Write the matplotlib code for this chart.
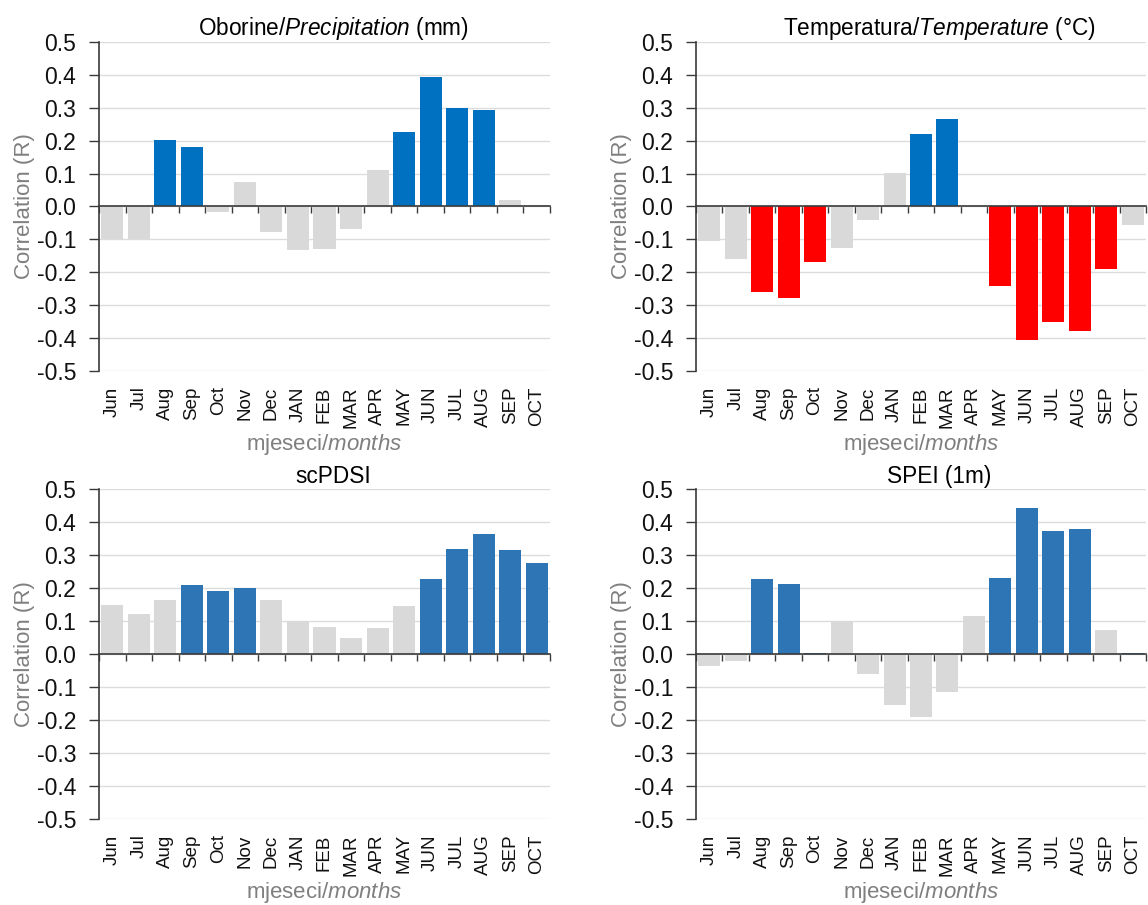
import matplotlib
matplotlib.use("Agg")
import matplotlib.pyplot as plt
import numpy as np

plt.rcParams['font.family'] = ['Liberation Sans', 'DejaVu Sans']
plt.rcParams['mathtext.fontset'] = 'custom'
plt.rcParams['mathtext.rm'] = 'Liberation Sans'
plt.rcParams['mathtext.it'] = 'Liberation Sans:italic'
plt.rcParams['axes.unicode_minus'] = False

# ---------------- data ----------------
months = ["Jun", "Jul", "Aug", "Sep", "Oct", "Nov", "Dec", "JAN", "FEB", "MAR",
          "APR", "MAY", "JUN", "JUL", "AUG", "SEP", "OCT"]

precip = [-0.100, -0.098, 0.203, 0.180, -0.017, 0.074, -0.079, -0.131, -0.128, -0.068,
          0.112, 0.226, 0.394, 0.298, 0.294, 0.020, 0.005]
precip_sig = [0, 0, 1, 1, 0, 0, 0, 0, 0, 0, 0, 1, 1, 1, 1, 0, 0]

temp = [-0.104, -0.159, -0.260, -0.278, -0.170, -0.126, -0.041, 0.102, 0.220, 0.267,
        0.000, -0.243, -0.406, -0.351, -0.377, -0.190, -0.057]
temp_sig = [0, 0, 1, 1, 1, 0, 0, 0, 1, 1, 0, 1, 1, 1, 1, 1, 0]

scpdsi = [0.147, 0.121, 0.165, 0.210, 0.192, 0.199, 0.164, 0.100, 0.083, 0.050,
          0.079, 0.145, 0.227, 0.319, 0.364, 0.316, 0.275]
scpdsi_sig = [0, 0, 0, 1, 1, 1, 0, 0, 0, 0, 0, 0, 1, 1, 1, 1, 1]

spei = [-0.036, -0.020, 0.226, 0.212, 0.004, 0.099, -0.061, -0.155, -0.191, -0.115,
        0.115, 0.229, 0.441, 0.374, 0.380, 0.072, 0.004]
spei_sig = [0, 0, 1, 1, 1, 0, 0, 0, 0, 0, 0, 1, 1, 1, 1, 0, 1]

titles = ["Oborine/$\\mathit{Precipitation}$ (mm)",
          "Temperatura/$\\mathit{Temperature}$ (°C)",
          "scPDSI",
          "SPEI (1m)"]
yticks = [-0.5, -0.4, -0.3, -0.2, -0.1, 0.0, 0.1, 0.2, 0.3, 0.4, 0.5]

# ---------------- style ----------------
GRAY = "#D9D9D9"
RED = "#FF0000"
BLUES = ["#0070C0", "#0070C0", "#2E75B6", "#2E75B6"]
LABEL_GRAY = "#7F7F7F"
AXIS_COL = "#3A3A3A"

fig = plt.figure(figsize=(11.48, 9.05), dpi=100)
W, H = 1148, 905
rects = [
    [99 / W, 1 - 371 / H, 451 / W, 329 / H],
    [696 / W, 1 - 371 / H, 450 / W, 329 / H],
    [99 / W, 1 - 819 / H, 451 / W, 330 / H],
    [696 / W, 1 - 819 / H, 450 / W, 330 / H],
]
title_x = [0.52, 0.54, 0.52, 0.54]
series = [(precip, precip_sig), (temp, temp_sig), (scpdsi, scpdsi_sig), (spei, spei_sig)]

x = np.arange(len(months))
for k, (vals, sig) in enumerate(series):
    ax = fig.add_axes(rects[k])
    vals = np.asarray(vals)
    colors = []
    for v, s in zip(vals, sig):
        if not s:
            colors.append(GRAY)
        elif v >= 0:
            colors.append(BLUES[k])
        else:
            colors.append(RED)
    ax.bar(x, vals, width=0.83, color=colors, zorder=2)

    ax.set_xlim(-0.5, len(months) - 0.5)
    ax.set_ylim(-0.5, 0.5)
    ax.set_yticks(yticks)
    ax.set_yticklabels([f"{t:.1f}" for t in yticks], fontsize=16.5, color="#111111")
    ax.tick_params(axis='y', direction='out', length=7.5, width=1.0, color=AXIS_COL, pad=9)
    ax.yaxis.grid(True, color="#DCDCDC", linewidth=1.0, zorder=0)
    ax.set_axisbelow(True)

    for sp in ['top', 'right']:
        ax.spines[sp].set_visible(False)
    ax.spines['left'].set_color(AXIS_COL)
    ax.spines['left'].set_linewidth(1.2)
    ax.spines['bottom'].set_position(('data', 0))
    ax.spines['bottom'].set_color(AXIS_COL)
    ax.spines['bottom'].set_linewidth(1.2)
    ax.spines['bottom'].set_zorder(3)

    ax.set_xticks(np.arange(len(months) + 1) - 0.5)
    ax.set_xticklabels([])
    ax.tick_params(axis='x', direction='out', length=5, width=1.0, color=AXIS_COL)

    sec = ax.secondary_xaxis('bottom')
    sec.set_xticks(x)
    sec.set_xticklabels(months, rotation=90, fontsize=13.5, color="#111111")
    sec.tick_params(length=0, pad=11)
    sec.spines['bottom'].set_visible(False)
    sec.set_xlabel("mjeseci/$\\mathit{months}$", fontsize=16, color=LABEL_GRAY, labelpad=3)

    ax.set_ylabel("Correlation (R)", fontsize=16, color=LABEL_GRAY, labelpad=1)
    ax.set_title(titles[k], fontsize=16.3, x=title_x[k], pad=4)

fig.savefig("out.png", dpi=100)
